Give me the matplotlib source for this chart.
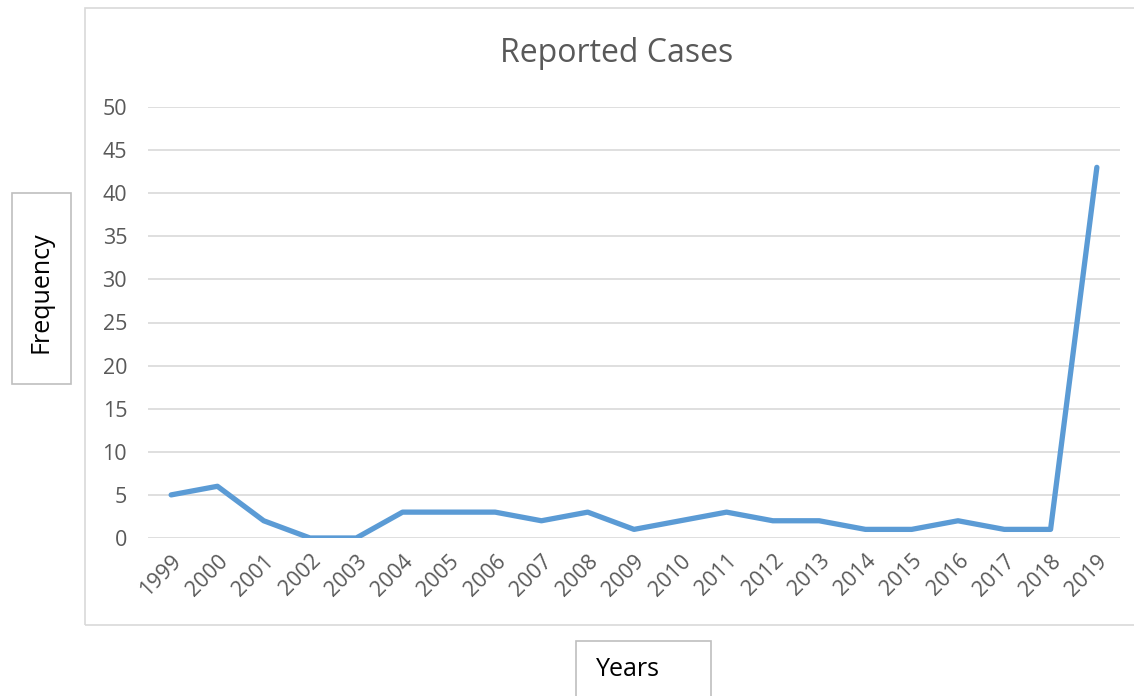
import matplotlib.pyplot as plt
from matplotlib.patches import Rectangle

years = [str(y) for y in range(1999, 2020)]
cases = [5, 6, 2, 0, 0, 3, 3, 3, 2, 3, 1, 2, 3, 2, 2, 1, 1, 2, 1, 1, 43]
y_ticks = list(range(0, 55, 5))

W, H = 1134, 696
plt.rcParams['font.family'] = ['Open Sans', 'DejaVu Sans']
fig = plt.figure(figsize=(W / 100, H / 100), dpi=100)

# chart area border (Excel style)
fig.patches.append(Rectangle((85 / W, 1 - 625 / H), (1150 - 85) / W, (625 - 8) / H,
                             transform=fig.transFigure, fill=False,
                             edgecolor='#D9D9D9', linewidth=1.2))

ax = fig.add_axes([148 / W, 1 - 538 / H, (1120 - 148) / W, (538 - 107) / H])
x = list(range(len(years)))
ax.plot(x, cases, color='#5B9BD5', linewidth=3.8, solid_joinstyle='round', solid_capstyle='round')
ax.set_xlim(-0.5, len(years) - 0.5)
ax.set_ylim(0, 50)
ax.set_yticks(y_ticks)
ax.set_xticks(x)
ax.set_xticklabels(years, rotation=45, ha='right', rotation_mode='anchor')
ax.grid(axis='y', color='#D9D9D9', linewidth=1.2)
ax.set_axisbelow(True)
for s in ax.spines.values():
    s.set_visible(False)
ax.tick_params(length=0, labelsize=15.5, colors='#595959')
ax.tick_params(axis='y', pad=15)
ax.tick_params(axis='x', pad=9)

fig.text(617 / W, 1 - 54 / H, 'Reported Cases', ha='center', va='center',
         fontsize=23, color='#595959')

# axis title boxes
fig.patches.append(Rectangle((12 / W, 1 - 384 / H), 59 / W, 191 / H,
                             transform=fig.transFigure, fill=False,
                             edgecolor='#BFBFBF', linewidth=1.2))
fig.text(41 / W, 1 - 292 / H, 'Frequency', rotation=90, ha='center', va='center',
         fontsize=18, color='black')
fig.patches.append(Rectangle((576 / W, 1 - 710 / H), 135 / W, 69 / H,
                             transform=fig.transFigure, fill=False,
                             edgecolor='#BFBFBF', linewidth=1.2))
fig.text(628 / W, 1 - 670 / H, 'Years', ha='center', va='center',
         fontsize=18, color='black')

fig.savefig('out.png', dpi=100)
